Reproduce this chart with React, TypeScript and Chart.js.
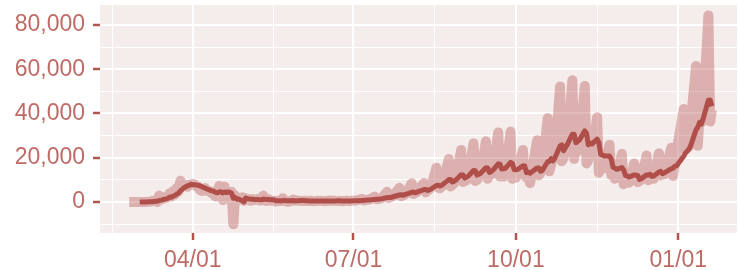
import React, { useEffect, useRef } from 'react';
import { Chart, registerables } from 'chart.js';

Chart.register(...registerables);

// Daily new cases per calendar day (null = no report that day)
const startFeb2020 = '2020-02-25';
const daily2020Feb = [4, 7, 2, 17, 13];
const daily2020Mar = [39, 36, 45, 57, 37, 141, 100, 173, 400, 622, 582, 0, 2955, 1159, 1407, 2144, 1806, 2162, 4053, 2447, 4964, 3394, 6368, 4749, 9630, 8271, 7933, 7516, 6875, 7846, 7967];
const daily2020Apr = [8195, 7947, 7134, 6969, 5478, 5029, 5267, 6278, 5002, 5051, 4754, 3804, 3268, 2442, 5103, 7304, 5891, 887, 6948, 1536, 3968, 4211, 4635, -10034, 2915, 1729, 1831, 1308, 2144, 518];
const daily2020May = [1781, 1366, 884, 545, 1318, 996, 1122, 1410, 721, 772, 2900, 594, 439, 1220, 643, 515, 539, 281, 518, 418, 482, 1700, 466, 246, 100, 380, 510, 1137, 657, 664, 600];
const daily2020Jun = [500, 400, 550, 450, 500, 400, 600, 350, 400, 450, 550, 600, 500, 450, 350, 400, 700, 500, 600, 550, 450, 400, 500, 450, 350, 500, 650, 450, 500, 550];
const daily2020Jul = [600, 700, 800, null, null, 1400, 700, 900, 1000, 1100, null, null, 2400, 1200, 1300, 1600, 1700, null, null, 4600, 1800, 2100, 2700, 2900, null, null, 6400, 2600, 3000, 3300, 4000];
const daily2020Aug = [null, null, 8500, 3600, 4200, 4500, 5800, null, null, 8600, 4400, 5200, 5800, 6800, null, null, 15500, 6500, 6200, 7000, 9500, null, null, 19400, 7000, 7800, 8500, 10500, null, null, 23500];
const daily2020Sep = [9000, 9500, 9800, 11000, null, null, 26500, 9500, 10000, 11500, 12500, null, null, 27400, 10500, 12000, 12500, 14400, null, null, 31400, 11500, 12000, 11500, 13000, null, null, 31800, 10500, 12500];
const daily2020Oct = [11000, 12500, null, null, 23500, 12000, 11000, 12500, 8500, null, null, null, 27900, 12000, 13300, 15200, null, null, 37900, 13900, 17000, 21000, 19900, null, null, 52200, 18400, 19800, 23600, 25600, null];
const daily2020Nov = [null, 55000, 19500, 25500, 23000, 24000, null, null, 52400, 17400, 19100, 25600, 21800, null, null, 38300, 13200, 15000, 16200, 15200, null, null, 25900, 12200, 12300, 10600, 10900, null, null, 21700];
const daily2020Dec = [8000, 8800, 10100, 8700, null, null, 17500, null, 9000, 9500, 10000, null, null, 21000, 9800, 11000, 10500, 10500, null, null, 22000, 12000, 13500, 12500, null, null, null, 24500, 11800, 17000, 23000];
const daily2021Jan = [null, null, null, 42000, 23700, null, 25000, 35900, null, null, 61400, 25400, 38900, 35900, 40200, null, null, 84300, 36400, 41600];

const monthStarts = [startFeb2020, '2020-03-01', '2020-04-01', '2020-05-01', '2020-06-01', '2020-07-01', '2020-08-01', '2020-09-01', '2020-10-01', '2020-11-01', '2020-12-01', '2021-01-01'];
const monthValues = [daily2020Feb, daily2020Mar, daily2020Apr, daily2020May, daily2020Jun, daily2020Jul, daily2020Aug, daily2020Sep, daily2020Oct, daily2020Nov, daily2020Dec, daily2021Jan];

// Axis: dates and labels
const xMajorDates = ['2020-04-01', '2020-07-01', '2020-10-01', '2021-01-01'];
const xMajorLabels = ['04/01', '07/01', '10/01', '01/01'];
const xMinorDates = ['2020-02-15T12:00:00Z', '2020-05-16T12:00:00Z', '2020-08-16', '2020-11-16'];
const xRange = ['2020-02-08T11:30:00Z', '2021-02-03T05:00:00Z'];

const yMajorTicks = [0, 20000, 40000, 60000, 80000];
const yMinorTicks = [-10000, 10000, 30000, 50000, 70000];
const yRange = [-14000, 89000];

const ROLL = 7;

const PANEL_BG = '#F5ECEC';
const MEAN_COLOR = '#B04E4A';
const DAILY_COLOR = 'rgba(176,78,74,0.38)';
const TEXT_COLOR = '#BE6A65';
const TICK_COLOR = '#B4544F';
const FONT = "'Liberation Sans', Arial, Helvetica, sans-serif";

const EPOCH = Date.parse('2020-01-01T00:00:00Z');
function dayOf(iso: string): number {
  const s = iso.includes('T') ? iso : iso + 'T00:00:00Z';
  return (Date.parse(s) - EPOCH) / 86400000;
}

function buildDaily() {
  const pts: { x: number; y: number }[] = [];
  monthStarts.forEach((start, m) => {
    const d0 = dayOf(start);
    monthValues[m].forEach((v, i) => {
      if (v !== null && v !== undefined) pts.push({ x: d0 + i, y: v as number });
    });
  });
  return pts;
}

function rollingMean(rows: { x: number; y: number }[]) {
  const out: { x: number; y: number }[] = [];
  for (let i = ROLL - 1; i < rows.length; i++) {
    let s = 0;
    for (let k = i - ROLL + 1; k <= i; k++) s += rows[k].y;
    out.push({ x: rows[i].x, y: s / ROLL });
  }
  return out;
}

const panelBg = {
  id: 'panelBg',
  beforeDraw(chart: any) {
    const { ctx, chartArea } = chart;
    if (!chartArea) return;
    ctx.save();
    ctx.fillStyle = PANEL_BG;
    ctx.fillRect(chartArea.left, chartArea.top, chartArea.right - chartArea.left, chartArea.bottom - chartArea.top);
    ctx.restore();
  },
};

export default function App() {
  const ref = useRef<HTMLCanvasElement>(null);

  useEffect(() => {
    const canvas = ref.current;
    if (!canvas) return;
    const daily = buildDaily();
    const mean = rollingMean(daily);
    const xMajor = xMajorDates.map(dayOf);
    const xMinor = xMinorDates.map(dayOf);
    const xTicks = [...xMinor, ...xMajor].sort((a, b) => a - b);
    const yTicks = [...yMinorTicks, ...yMajorTicks].sort((a, b) => a - b);
    const isXMajor = (v: number) => xMajor.some((m) => Math.abs(m - v) < 1e-6);
    const isYMajor = (v: number) => yMajorTicks.includes(v);

    const chart = new Chart(canvas, {
      type: 'line',
      data: {
        datasets: [
          {
            label: '7-day average',
            data: mean,
            borderColor: MEAN_COLOR,
            borderWidth: 5,
            pointRadius: 0,
            borderJoinStyle: 'round',
            borderCapStyle: 'butt',
            tension: 0,
            order: 0,
          },
          {
            label: 'Daily',
            data: daily,
            borderColor: DAILY_COLOR,
            borderWidth: 10,
            pointRadius: 0,
            borderJoinStyle: 'round',
            borderCapStyle: 'butt',
            tension: 0,
            order: 1,
          },
        ],
      },
      options: {
        responsive: false,
        animation: false,
        events: [],
        parsing: false as any,
        layout: { padding: { top: 5, right: 1, left: 0, bottom: 0 } },
        plugins: { legend: { display: false }, tooltip: { enabled: false } },
        scales: {
          x: {
            type: 'linear',
            min: dayOf(xRange[0]),
            max: dayOf(xRange[1]),
            afterBuildTicks: (s: any) => {
              s.ticks = xTicks.map((v) => ({ value: v }));
            },
            afterFit: (s: any) => {
              s.height = 37;
              s.paddingLeft = 0;
              s.paddingRight = 0;
              s.paddingTop = 0;
              s.paddingBottom = 0;
            },
            border: { display: false },
            grid: {
              color: '#FFFFFF',
              lineWidth: (c: any) => (c.tick && isXMajor(c.tick.value) ? 2 : 1),
              drawTicks: true,
              tickLength: 7,
              tickWidth: 2.5,
              tickColor: (c: any) => (c.tick && isXMajor(c.tick.value) ? TICK_COLOR : 'rgba(0,0,0,0)'),
            },
            ticks: {
              autoSkip: false,
              maxRotation: 0,
              padding: 7,
              color: TEXT_COLOR,
              font: { family: FONT, size: 23 },
              callback: (v: any) => {
                const i = xMajor.findIndex((m) => Math.abs(m - Number(v)) < 1e-6);
                return i >= 0 ? xMajorLabels[i] : '';
              },
            },
          },
          y: {
            type: 'linear',
            min: yRange[0],
            max: yRange[1],
            afterBuildTicks: (s: any) => {
              s.ticks = yTicks.map((v) => ({ value: v }));
            },
            afterFit: (s: any) => {
              s.width = 100;
              s.paddingLeft = 0;
              s.paddingRight = 0;
              s.paddingTop = 0;
              s.paddingBottom = 0;
            },
            border: { display: false },
            grid: {
              color: '#FFFFFF',
              lineWidth: (c: any) => (c.tick && isYMajor(c.tick.value) ? 2 : 1),
              drawTicks: true,
              tickLength: 7,
              tickWidth: 2.5,
              tickColor: (c: any) => (c.tick && isYMajor(c.tick.value) ? TICK_COLOR : 'rgba(0,0,0,0)'),
            },
            ticks: {
              autoSkip: false,
              padding: 8,
              color: TEXT_COLOR,
              font: { family: FONT, size: 23 },
              callback: (v: any) => (isYMajor(Number(v)) ? Number(v).toLocaleString('en-US') : ''),
            },
          },
        },
      },
      plugins: [panelBg],
    });
    return () => chart.destroy();
  }, []);

  return (
    <div style={{ position: 'fixed', left: 0, top: 0, width: 738, height: 270, background: '#FFFFFF' }}>
      <canvas ref={ref} width={738} height={270} style={{ display: 'block', width: 738, height: 270 }} />
    </div>
  );
}
